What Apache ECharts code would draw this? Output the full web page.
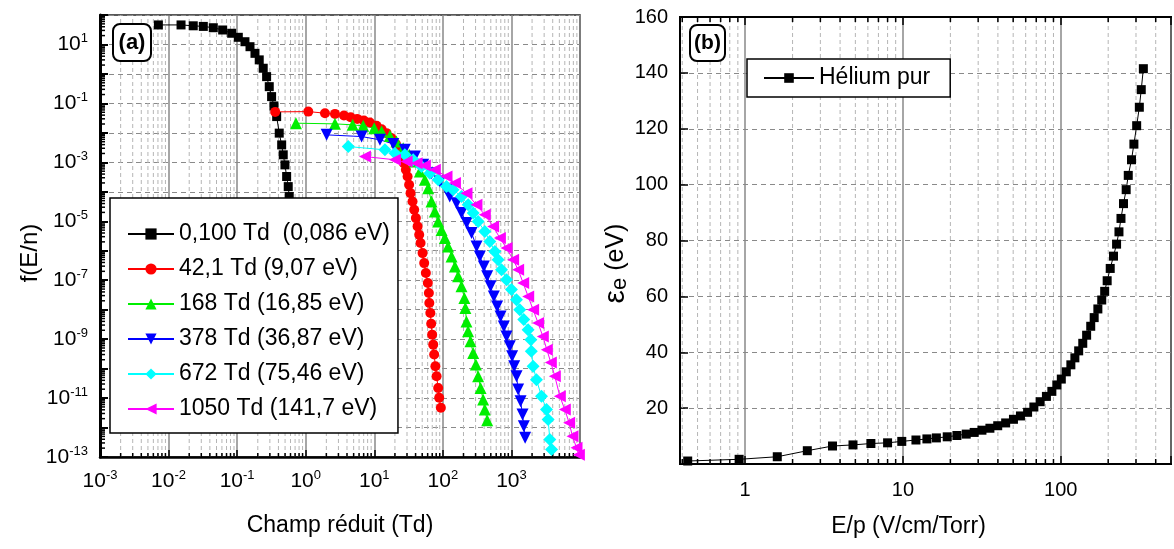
<!DOCTYPE html>
<html><head><meta charset="utf-8">
<script src="https://cdn.jsdelivr.net/npm/echarts@6/dist/echarts.min.js"></script>
<style>html,body{margin:0;padding:0;background:#fff}#c{width:1174px;height:549px}</style>
</head><body><div id="c"></div>
<script>
const FONT = '"Liberation Sans", Arial, sans-serif';

// ---------- Panel (a) data : [reduced field (Td), f(E/n)] ----------
const legendNames = ['0,100 Td  (0,086 eV)', '42,1 Td (9,07 eV)', '168 Td (16,85 eV)',
                     '378 Td (36,87 eV)', '672 Td (75,46 eV)', '1050 Td (141,7 eV)'];
const fTd0100 = [[0.0071,46],[0.0152,46],[0.0229,43],[0.0321,41],[0.0449,37],[0.0615,31],[0.0832,24],[0.104,17.5],[0.130,12.4],[0.154,8.4],[0.182,5.0],[0.210,3.0],[0.240,1.56],[0.269,0.81],[0.294,0.37],[0.318,0.17],[0.344,0.082],[0.377,0.0357],[0.411,0.0098],[0.446,0.0039],[0.470,0.0018],[0.498,8.2e-4],[0.527,3.3e-4],[0.556,1.5e-4],[0.575,6.9e-5],[0.59,3e-5],[0.60,1.2e-5]];
const fTd42 = [[0.359,0.0515],[1.09,0.0527],[1.91,0.0466],[2.67,0.0441],[3.61,0.0386],[4.52,0.0340],[5.64,0.0298],[7.05,0.0261],[8.63,0.0224],[10.8,0.0173],[12.8,0.0133],[15.1,0.0098],[17.9,0.0066],[20.7,0.0042],[22.8,0.00265],[25.0,0.00157],[27.0,9.4e-4],[28.9,5.6e-4],[30.6,3.3e-4],[32.2,1.73e-4],[33.8,9.0e-5],[36.1,4.7e-5],[38.2,2.45e-5],[40.4,1.28e-5],[42.8,6.7e-6],[45.2,3.5e-6],[47.3,1.82e-6],[50.6,8.3e-7],[53.4,3.8e-7],[56.5,1.75e-7],[60.4,8.0e-8],[62.5,3.7e-8],[63.5,1.69e-8],[65.7,7.7e-9],[67.6,3.35e-9],[69.8,1.42e-9],[72.3,6.5e-10],[74.7,3.0e-10],[77.8,1.2e-10],[81.0,5.5e-11],[85.5,2.2e-11],[88.4,1.02e-11],[93.5,4.7e-12]];
const fTd168 = [[0.72,0.0213],[2.67,0.0202],[4.83,0.0187],[6.89,0.0173],[9.96,0.0144],[12.8,0.0111],[16.9,0.0079],[21.1,0.0051],[26.4,0.0030],[32.3,0.0018],[39.1,0.00106],[46.2,4.9e-4],[54.7,2.55e-4],[61.1,1.33e-4],[68.3,4.7e-5],[76.4,2.15e-5],[85.3,9.8e-6],[95.7,5.1e-6],[107,2.7e-6],[119,1.4e-6],[134,6.4e-7],[150,2.94e-7],[167,1.35e-7],[187,6.2e-8],[206,2.5e-8],[213,1.14e-8],[221,4.0e-9],[233,1.84e-9],[253,8.4e-10],[277,3.4e-10],[303,1.37e-10],[327,5.5e-11],[355,2.2e-11],[387,8.9e-12],[409,4.1e-12],[443,1.77e-12]];
const fTd378 = [[2.02,0.00855],[6.53,0.0075],[12.1,0.0058],[18.9,0.0042],[27.9,0.00265],[39.1,0.00157],[51.6,8.2e-4],[68.4,4.3e-4],[90.4,2.24e-4],[113,1.17e-4],[126,6.9e-5],[158,4.1e-5],[187,1.9e-5],[222,8.7e-6],[262,4.0e-6],[310,1.4e-6],[346,6.4e-7],[396,2.94e-7],[443,1.35e-7],[496,6.2e-8],[554,2.8e-8],[619,1.29e-8],[694,5.9e-9],[774,2.7e-9],[848,1.24e-9],[948,5.7e-10],[1024,2.6e-10],[1096,1.2e-10],[1187,5.5e-11],[1253,1.95e-11],[1358,7.8e-12],[1452,2.76e-12],[1517,1.1e-12],[1585,4.5e-13]];
const fTd672 = [[4.17,0.00344],[14.3,0.00265],[20.0,0.00205],[27.9,0.0018],[36.9,0.00122],[48.9,7.2e-4],[64.6,4.3e-4],[85.5,2.55e-4],[113,1.51e-4],[141,1.17e-4],[187,6.9e-5],[234,3.6e-5],[277,1.9e-5],[327,9.8e-6],[409,4.5e-6],[484,2.07e-6],[573,9.5e-7],[640,4.95e-7],[717,2.27e-7],[848,1.04e-7],[1000,4.8e-8],[1183,2.19e-8],[1323,1.0e-8],[1514,4.6e-9],[1750,2.1e-9],[1918,9.6e-10],[1950,3.85e-10],[2070,1.2e-10],[2318,4.2e-11],[2745,1.15e-11],[3250,4.1e-12],[3430,1.87e-12],[3630,3.9e-13],[3845,1.8e-13]];
const fTd1050 = [[7.3,0.00157],[20.0,0.00122],[29.6,0.00106],[41.4,9.4e-4],[54.7,7.8e-4],[76.4,5.6e-4],[113,3.3e-4],[150,1.97e-4],[221,9.0e-5],[309,3.6e-5],[409,1.66e-5],[541,6.7e-6],[678,2.7e-6],[848,1.23e-6],[1059,4.95e-7],[1253,2.27e-7],[1483,8.0e-8],[1754,2.8e-8],[2072,1.0e-8],[2450,3.5e-9],[2870,1.24e-9],[3283,4.4e-10],[3753,1.6e-10],[4295,5.5e-11],[5080,1.15e-11],[6000,4.1e-12],[6935,1.45e-12],[7770,5.1e-13],[8890,2.05e-13],[9620,1.2e-13]];

// ---------- Panel (b) data ----------
const heliumName = 'Hélium pur';
const epValues = [0.433,0.917,1.60,2.48,3.58,4.83,6.27,8.0,9.84,12.1,14.2,16.3,19.1,22.0,25.2,28.3,31.7,35.6,39.9,44.8,50.2,55.6,61.7,67.6,74.1,81.2,87.9,94.5,100.9,108.5,116,123,130,138,146,155,163,172,182,190,197,206,216,226,234,241,250,260,268,281,291,303,315,324,334];
const energyEV = [1.07,1.68,2.6,4.76,6.44,6.83,7.33,7.58,8.09,8.59,8.98,9.34,9.73,10.2,10.7,11.3,12.1,12.8,13.7,14.7,16.0,17.2,18.5,20.4,22.3,24.2,26.0,28.3,30.4,33.0,35.5,38.0,40.5,43.2,46.1,49.3,52.4,55.5,58.7,61.8,65.6,70.0,74.4,78.7,83.1,87.9,93.2,98.2,103.3,108.9,114.5,121.1,127.7,134.0,141.5];

// axis ranges
const aXmin = 1e-3, aXmax = 1e4, aYmin = 1e-13, aYmax = 1e2;
const bXmin = 0.387, bXmax = 500, bYmin = 0, bYmax = 160;
const minorMult = [2,3,4,5,6,7,8,9];

function minorValues(lo, hi) {
  const out = [];
  for (let e = Math.floor(Math.log10(lo)); e <= Math.ceil(Math.log10(hi)); e++) {
    for (const m of minorMult) { const v = m * Math.pow(10, e); if (v > lo * 1.0001 && v < hi * 0.9999) out.push(v); }
  }
  return out;
}

function powLabel(v) {
  const e = Math.round(Math.log10(v));
  return '{b|10}{s|' + e + '}';
}
const powRich = {
  b: { fontSize: 21, fontFamily: FONT, color: '#000', lineHeight: 25 },
  s: { fontSize: 13, fontFamily: FONT, color: '#000', verticalAlign: 'top', lineHeight: 14 }
};

function vMinor(yLo, yHi, tickB, tickT, color) {
  return function (params, api) {
    const v = api.value(0);
    const a = api.coord([v, yLo]);
    const b = api.coord([v, yHi]);
    const ch = [{ type: 'line', shape: { x1: a[0], y1: a[1], x2: b[0], y2: b[1] },
                  style: { stroke: color, lineWidth: 1, lineDash: [4, 3] } }];
    if (tickB) ch.push({ type: 'line', shape: { x1: a[0], y1: a[1], x2: a[0], y2: a[1] - tickB }, style: { stroke: '#000', lineWidth: 1.5 } });
    if (tickT) ch.push({ type: 'line', shape: { x1: b[0], y1: b[1], x2: b[0], y2: b[1] + tickT }, style: { stroke: '#000', lineWidth: 1.5 } });
    return { type: 'group', children: ch };
  };
}
function hMinorTick(len) {
  return function (params, api) {
    const p = api.coord([api.value(0), api.value(1)]);
    return { type: 'line', shape: { x1: p[0], y1: p[1], x2: p[0] + len, y2: p[1] }, style: { stroke: '#000', lineWidth: 1.5 } };
  };
}

const DOWN_TRI = 'path://M0,0L10,0L5,9Z';
const LEFT_TRI = 'path://M9,0L9,10L0,5Z';
const leftDefs = [
  { data: fTd0100, color: '#000000', symbol: 'rect', size: 9 },
  { data: fTd42, color: '#ff0000', symbol: 'circle', size: 10 },
  { data: fTd168, color: '#00ee00', symbol: 'triangle', size: 12 },
  { data: fTd378, color: '#0000ff', symbol: DOWN_TRI, size: 12 },
  { data: fTd672, color: '#00ffff', symbol: 'diamond', size: 13 },
  { data: fTd1050, color: '#ff00ff', symbol: LEFT_TRI, size: 12 }
];

const series = [];
series.push({ type: 'custom', xAxisIndex: 0, yAxisIndex: 0, silent: true, z: 1,
  data: minorValues(aXmin, aXmax).map(v => [v, aYmin]), encode: { x: 0, y: 1 },
  renderItem: vMinor(aYmin, aYmax, 4, 0, '#b5b5b5') });
series.push({ type: 'custom', xAxisIndex: 0, yAxisIndex: 0, silent: true, z: 1,
  data: minorValues(aYmin, aYmax).map(v => [aXmin, v]), encode: { x: 0, y: 1 },
  renderItem: hMinorTick(5) });
series.push({ type: 'custom', xAxisIndex: 1, yAxisIndex: 1, silent: true, z: 1,
  data: minorValues(bXmin, bXmax).map(v => [v, bYmin]), encode: { x: 0, y: 1 },
  renderItem: vMinor(bYmin, bYmax, 5, 5, '#b5b5b5') });

leftDefs.forEach((d, i) => {
  series.push({ type: 'line', name: legendNames[i], xAxisIndex: 0, yAxisIndex: 0, z: 3,
    data: d.data, symbol: d.symbol, symbolSize: d.size, showSymbol: true,
    lineStyle: { width: 1, color: d.color }, itemStyle: { color: d.color } });
});
series.push({ type: 'line', name: heliumName, xAxisIndex: 1, yAxisIndex: 1, z: 3,
  data: epValues.map((x, i) => [x, energyEV[i]]), symbol: 'rect', symbolSize: 9,
  lineStyle: { width: 1, color: '#000' }, itemStyle: { color: '#000' } });

const option = {
  animation: false,
  backgroundColor: '#fff',
  textStyle: { fontFamily: FONT },
  grid: [
    { left: 100, top: 15, width: 480, height: 442, show: true, borderColor: '#222', borderWidth: 1.5, backgroundColor: 'transparent' },
    { left: 680, top: 17, width: 520, height: 447, show: true, borderColor: '#000', borderWidth: 2, backgroundColor: 'transparent' }
  ],
  xAxis: [
    { gridIndex: 0, type: 'log', logBase: 10, min: aXmin, max: aXmax, interval: 1,
      axisLine: { lineStyle: { color: '#000', width: 2.5 } },
      axisTick: { inside: true, length: 7, lineStyle: { color: '#000', width: 1.5 } },
      axisLabel: { margin: 12, formatter: v => (Math.round(Math.log10(v)) >= 4 ? '' : powLabel(v)), rich: powRich },
      splitLine: { show: true, lineStyle: { color: '#888', width: 1.5 } },
      name: 'Champ réduit (Td)', nameLocation: 'middle', nameGap: 57,
      nameTextStyle: { fontSize: 23, color: '#000', fontFamily: FONT } },
    { gridIndex: 1, type: 'log', logBase: 10, min: bXmin, max: bXmax,
      axisLine: { lineStyle: { color: '#000', width: 2 } },
      axisTick: { inside: true, length: 8, lineStyle: { color: '#000', width: 1.5 } },
      axisLabel: { margin: 16, fontSize: 20, color: '#000', fontFamily: FONT,
        formatter: v => { const e = Math.log10(v); return Math.abs(e - Math.round(e)) < 1e-6 ? String(Math.round(v)) : ''; } },
      splitLine: { show: true, lineStyle: { color: '#888', width: 1.5 } },
      name: 'E/p (V/cm/Torr)', nameLocation: 'middle', nameGap: 51,
      nameTextStyle: { fontSize: 23, color: '#000', fontFamily: FONT, padding: [0, 34, 0, 0] } },
    { gridIndex: 1, type: 'log', logBase: 10, min: bXmin, max: bXmax, position: 'top',
      axisLine: { lineStyle: { color: '#000', width: 2 } },
      axisTick: { inside: true, length: 8, lineStyle: { color: '#000', width: 1.5 } },
      axisLabel: { show: false }, splitLine: { show: false } }
  ],
  yAxis: [
    { gridIndex: 0, type: 'log', logBase: 10, min: aYmin, max: aYmax, interval: 1,
      axisLine: { lineStyle: { color: '#000', width: 3 } },
      axisTick: { inside: true, length: 8, lineStyle: { color: '#000', width: 2 } },
      axisLabel: { margin: 12, formatter: v => { const e = Math.round(Math.log10(v)); return (Math.abs(e) % 2 === 1) ? powLabel(v) : ''; }, rich: powRich },
      splitLine: { show: true, lineStyle: { color: '#8a8a8a', width: 1, type: [5, 4] } },
      name: 'f(E/n)', nameLocation: 'middle', nameGap: 58,
      nameTextStyle: { fontSize: 24, color: '#000', fontFamily: FONT, padding: [0, 34, 0, 0] } },
    { gridIndex: 1, type: 'value', min: bYmin, max: bYmax, interval: 20,
      axisLine: { lineStyle: { color: '#000', width: 2 } },
      axisTick: { inside: true, length: 8, lineStyle: { color: '#000', width: 1.5 } },
      axisLabel: { margin: 12, fontSize: 20, color: '#000', fontFamily: FONT, formatter: v => (v === 0 ? '' : String(v)) },
      splitLine: { show: true, lineStyle: { color: '#8a8a8a', width: 1, type: [5, 4] } },
      name: '{g|ε}{s|e}{n| (eV)}', nameLocation: 'middle', nameGap: 46,
      nameTextStyle: { color: '#000', fontFamily: FONT, padding: [0, 46, 0, 0],
        rich: { g: { fontSize: 30, fontFamily: FONT, color: '#000' },
                s: { fontSize: 22, fontFamily: FONT, color: '#000', verticalAlign: 'bottom' },
                n: { fontSize: 25, fontFamily: FONT, color: '#000' } } } }
  ],
  legend: [
    { data: legendNames, left: 110, top: 198, orient: 'vertical', itemWidth: 46, itemHeight: 14, itemGap: 11,
      padding: [24, 8, 12, 17], backgroundColor: '#fff', borderColor: '#000', borderWidth: 1.5, borderRadius: 0,
      selectedMode: false, textStyle: { fontSize: 23, fontFamily: FONT, color: '#000', lineHeight: 24 } },
    { data: [heliumName], left: 747, top: 59, itemWidth: 50, itemHeight: 12,
      padding: [7, 20, 7, 16], backgroundColor: '#fff', borderColor: '#000', borderWidth: 1.5, borderRadius: 0,
      selectedMode: false, textStyle: { fontSize: 23, fontFamily: FONT, color: '#000', lineHeight: 24 } }
  ],
  graphic: [
    { type: 'rect', z: 100, shape: { x: 113, y: 24, width: 38, height: 37, r: 7 }, style: { fill: '#fff', stroke: '#000', lineWidth: 2 } },
    { type: 'text', z: 101, x: 132, y: 42.5, style: { text: '(a)', font: 'bold 22px "Liberation Sans", Arial', fill: '#000', align: 'center', verticalAlign: 'middle' } },
    { type: 'rect', z: 100, shape: { x: 690, y: 25, width: 35, height: 36, r: 7 }, style: { fill: '#fff', stroke: '#000', lineWidth: 2 } },
    { type: 'text', z: 101, x: 707.5, y: 43, style: { text: '(b)', font: 'bold 21px "Liberation Sans", Arial', fill: '#000', align: 'center', verticalAlign: 'middle' } }
  ],
  series: series
};

const chart = echarts.init(document.getElementById('c'), null, { renderer: 'canvas' });
chart.setOption(option);
</script></body></html>
